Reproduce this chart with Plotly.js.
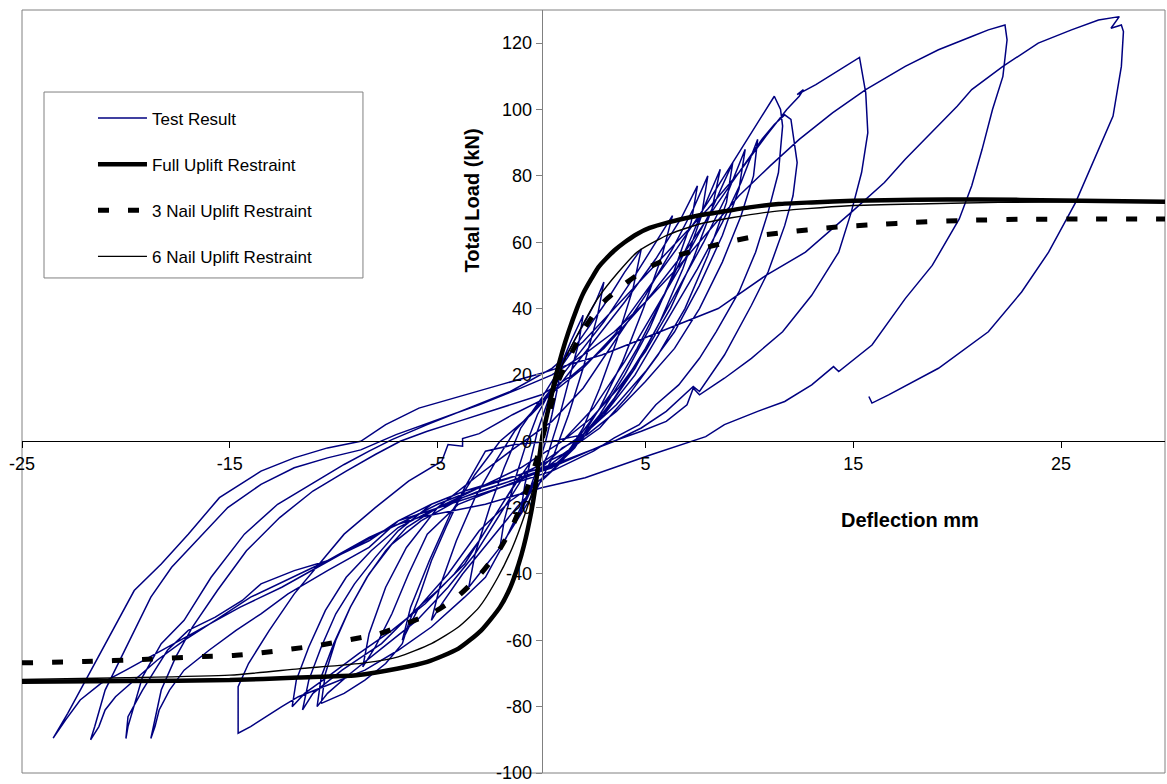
<!DOCTYPE html>
<html>
<head>
<meta charset="utf-8">
<script src="https://cdn.plot.ly/plotly-3.0.1.min.js"></script>
<style>
  html, body { margin: 0; padding: 0; background: #fff; }
  #chart { width: 1167px; height: 784px; }
</style>
</head>
<body>
<div id="chart"></div>
<script>
// ---------- Test record, cycle by cycle (deflection mm, load kN) ----------
const cyc1X = [0,0.3,0.6,1.0,0.8,0.5,0.2,-0.2,-0.6,-1.0,-0.8,-0.5,-0.2];
const cyc1Y = [0,8,16,25,17,8,0,-8,-15,-21,-13,-5,3];

const cyc2X = [0.3,0.8,1.4,2.0,1.8,1.3,0.8,0.3,-0.3,-0.9,-1.5,-2.0,-1.8,-1.3,-0.8,-0.2];
const cyc2Y = [12,21,30,38,30,18,6,-4,-12,-20,-27,-32,-24,-12,-2,8];

const cyc3X = [0.5,1.2,2.0,2.6,3.0,2.7,2.0,1.3,0.6,-0.2,-1.0,-2.0,-3.0,-3.5,-3.2,-2.5,-1.8,-1.0];
const cyc3Y = [16,26,35,42,48,38,22,8,-4,-14,-22,-32,-40,-44,-34,-20,-8,4];

const cyc4X = [0,1,2,3,4,4.8,4.4,3.6,2.8,2.0,1.0,0,-1.2,-2.5,-3.8,-4.8,-5.3,-4.9,-4.1,-3.2,-2.2,-1.3];
const cyc4Y = [13,23,32,41,51,58,46,30,16,4,-6,-12,-20,-30,-40,-49,-54,-44,-30,-17,-6,3];

const cyc5X = [0,1.5,3,4.5,5.5,6.3,5.8,4.9,3.9,2.8,1.6,0.3,-1.5,-3,-4.5,-5.9,-6.7,-6.3,-5.4,-4.4,-3.2,-2];
const cyc5Y = [12,24,36,50,60,68,56,40,24,10,-2,-10,-18,-27,-40,-50,-60,-50,-36,-22,-10,0];

const cyc6X = [-0.5,1,2.5,4,5.5,6.7,7.5,7.2,6.3,5.2,4,2.8,1.5,0,-2,-4,-5.5,-6.4,-7.2,-8,-8.6,-8.3,-7.5,-6.5,-5,-3.2,-1.5];
const cyc6Y = [8,18,30,42,55,67,77,66,50,34,20,8,-2,-9,-14,-19,-28,-40,-52,-62,-68,-58,-44,-32,-20,-11,-3];

const cyc7X = [0.5,2,3.5,5,6.3,7.3,8.0,7.7,6.8,5.7,4.5,3.2,2,0.5,-1.3,-2.7,-3.7,-4.6,-5.3,-5.9,-6.4,-6.7,-7.5,-8.5,-9.5,-10.6,-10.4,-9.9,-9.2,-8.4,-7.5,-6.5,-5,-3,-1];
const cyc7Y = [6,16,30,44,58,70,80,68,52,36,22,10,2,0,-1,-3,-14,-26,-36,-47,-55,-61,-67,-72,-76,-79,-70,-60,-50,-41,-33,-26,-20,-14,-8];

const cyc8X = [1,2.5,4,5.5,7,8.2,9.2,8.9,8,6.9,5.6,4.2,2.8,1,-1,-2.5,-3.7,-5,-6.1,-7.7,-9.6,-11,-11.5,-11.2,-10.6,-9.9,-9.0,-8.0,-6.9,-5.3,-3.7,-2.1,-0.5,0.8];
const cyc8Y = [0,10,24,40,56,70,84,72,56,40,26,14,4,-4,-10,-25,-37,-45,-51,-61,-69,-76,-81,-72,-62,-52,-43,-35,-27,-19,-15,-12,-9,-7];

const cyc8bX = [2,3.3,4.6,5.9,7.1,8.0,8.6,8.2,7.3,6.2,5.0,3.7,2.4,1,-0.5,-1.8,-3,-4.2,-5.6,-7.2,-8.8,-10.3,-11.4,-12.0,-11.8,-11.2,-10.4,-9.4,-8.2,-6.9,-5,-3,-1,0.5];
const cyc8bY = [3,14,28,44,60,73,82,70,55,40,27,16,7,0,-6,-18,-30,-40,-49,-57,-64,-71,-76,-80,-72,-62,-51,-41,-33,-26,-20,-15,-11,-8];

const cyc8cX = [2,3.5,5,6.5,7.8,8.9,9.8,9.5,8.7,7.6,6.4,5,3.6,2.2,0.8,-0.8,-2,-3.2,-4.5,-6,-7.6,-9.2,-10.3,-10.8,-10.6,-10,-9.2,-8.3,-7.2,-5.8,-3.8,-1.5,0.8];
const cyc8cY = [1,13,28,45,60,74,88,76,62,47,33,21,11,3,-3,-10,-22,-34,-44,-54,-62,-70,-76,-80,-71,-61,-50,-40,-31,-24,-17,-12,-7];

const cyc9X = [2,3,4.5,6,7.5,8.7,9.6,10.4,10.2,9.6,8.7,7.6,6.4,5,3.6,2.2,1,0,-1,-2,-2.7,-3.7,-5.3,-6.9,-8.5,-10.1,-11.7,-12.5,-13.5,-14.0,-14.6,-14.6,-14.6,-14.1,-13.1,-11.9,-10.7,-9.5,-8.0,-6.4,-4.8,-4.5,-3.8,-3.8];
const cyc9Y = [2,8,20,36,52,66,78,91,80,68,54,40,28,18,9,2,-2,-8,-20,-33,-41,-47,-56,-63,-69,-73,-77,-80,-84,-86,-88,-81,-74,-67,-57,-46,-37,-28,-20,-12,-6,-1,-1.5,0.8];

const cyc10X = [-3.0,-1.4,0.2,2,3.5,5,6.5,8,9.2,10.2,11.2,11.5,11.6,11.4,10.9,10.3,9.5,8.4,7.6,6.6,5.5,4.7,3.5,2.5,0.5,-2,-4.5,-6.9,-8.3,-10.3,-12.2,-13.5,-14.7,-16,-17.2,-17.9,-18.4,-18.6,-18.8,-18.6,-18.3,-17.6,-16.8,-15.6,-14.2,-12.6,-11,-9.4,-8,-6.8,-5.5];
const cyc10Y = [2.3,8,13,22,32,45,58,72,84,94,104,100,95,81,69,57,45,33,25,17,11,5,1,-3,-9,-14,-19,-24,-32,-39,-46,-52,-57,-63,-69,-75,-81,-86,-89.6,-84,-75,-65,-56,-45,-33,-23,-15,-9,-4,0,3];

const cyc11X = [-4,-2,0,1.5,3,5,7,8.5,9.7,10.6,11.2,11.7,12.0,12.3,12.1,11.7,10.9,10.1,8.8,7.6,7.3,6.0,4.8,3.5,1,-1,-3,-5,-6.9,-8.3,-10.3,-11.9,-13.5,-14.4,-15.7,-17,-18,-18.6,-19.2,-19.9,-20.0,-19.9,-19.2,-18.3,-17.2,-15.9,-14.3,-12.7,-11.1,-9.5,-8.3,-7.2];
const cyc11Y = [6,10,14,20,28,42,58,72,83,91,95.5,98.4,97,84,74,65,51,41,26,15,16.5,9,4,0,-6,-10,-14,-19,-25,-29,-36,-39,-43,-48,-53,-57,-63,-69,-75,-83,-89.6,-86,-71,-61,-54,-41,-28,-19,-13,-7,-3,0.5];

const cyc12X = [-5.5,-3.5,-1.5,0.5,2,3.5,5,6.5,8,9.5,10.8,11.8,12.4,12.6,12.3,13.2,14.2,15.3,15.6,15.7,15.4,14.9,14.3,13.0,11.6,10.1,8.8,7.6,7.3,7.0,6.0,4.8,3,0.8,-0.5,-2.1,-3.7,-5.3,-6.9,-8.3,-10,-12,-14,-15.7,-17.2,-18.5,-19.6,-20.5,-21,-21.3,-21.7,-21.5,-21.0,-19.9,-18.8,-17.8,-16.3,-15.1,-13.5,-11.9,-10.3,-8.7];
const cyc12Y = [5,10,15,22,30,40,50,60,70,81,92,100,104,106,104.5,107.5,111.5,115.7,105,93,81,69,57,44,33,25,19,14,16,11,6,3,-1,-7,-9,-12,-15,-19,-24,-30,-35,-41,-47,-54,-60,-66,-72,-77,-81,-86,-90,-86,-75,-61,-47,-38,-28,-20,-13,-8,-5,-2.6];

const cyc13X = [-7,-5,-3,-1,0.5,2,3.5,5,6.5,8,9.5,11,12.4,14,15.6,17.5,19.1,20.7,21.5,22.3,22.4,22.2,21.7,21.2,20.7,20.1,18.8,17.5,15.9,14.3,14.05,13.0,11.7,10.4,8.8,7.9,5.3,2.1,0,-2.7,-5.9,-6.9,-8.5,-10.5,-12.5,-14.5,-16.5,-18.5,-20,-21.2,-22.2,-22.9,-23.5,-22.8,-21.5,-20.5,-19.6,-18.3,-17.0,-15.5,-13.5,-11.9,-10.3,-8.7];
const cyc13Y = [2,6.5,11,16,20,26,33,42,52,63,74,83,91,99,106,113,118,122,124,125.5,121,110,100,88,77,67,53,43,29,21,22.5,17,12,9,5,1.4,-4,-11,-14,-19,-23,-25,-30,-37,-44,-50,-57,-64,-69,-73,-78,-84,-89.5,-82,-67,-55,-45,-37,-28,-17,-9,-5,-2,0];

const cyc14X = [-7.5,-5.9,-4,-2,0,1,2.9,5.3,8.5,10.8,12.7,14.9,16.5,17.5,18.6,20,20.7,22.2,23.9,25.5,26.8,27.8,27.4,27.9,28.0,27.9,27.5,26.8,25.7,24.4,23.1,21.5,19.1,16.7,15.9,15.75];
const cyc14Y = [5,10,13.5,17,20.5,22.5,26,32,40,50,57,69,78,85,92,101,106,113,120,124,127,128,124.5,125.5,123.5,113,98,88,72,57,45,33,22,14,11.5,13.5];

// ---------- Model curves ----------
const fullX = [-25,-20,-15,-11.7,-8.9,-6.9,-5.5,-4,-2.9,-2,-1.5,-1.1,-0.85,-0.5,-0.3,0,0.3,0.66,1.0,1.3,1.7,2.0,2.4,2.74,3.1,3.5,4.0,4.6,5.2,6.1,7.5,8.5,10,11.4,13,15,18,21,25,30];
const fullY = [-72.5,-72.3,-72,-71.2,-70.5,-68.5,-66.5,-62.5,-57,-50,-44,-37,-31.5,-21.5,-14,0,9,19,27,33,40,44.5,49,52.5,55,57.5,60,62.5,64.3,66,68,69,70.5,71.5,72,72.5,72.8,72.9,72.6,72.2];

const threeX = [-25,-22,-19.2,-16.3,-14.9,-13.5,-12.1,-10.7,-9.3,-7.84,-6.56,-5.2,-4.0,-2.95,-2.07,-1.4,-0.8,-0.3,0,0.3,0.8,1.4,2.1,2.9,4.0,5.15,6.5,7.9,9.2,10.7,12.05,13.5,14.9,16.4,17.7,20.5,23,26,30];
const threeY = [-66.8,-66.4,-65.8,-64.9,-64.6,-63.8,-62.7,-61.5,-59.9,-58.1,-55.1,-51.6,-46.6,-40.1,-33.1,-25.6,-16,-7,0,7,18,26,34.4,41.4,47.4,52.4,55.9,58.4,60.4,62.2,63.2,64.2,64.9,65.4,65.9,66.6,66.9,67,67];

const sixX = [-25,-20,-15,-11.7,-8.5,-6.9,-5.3,-4,-3,-2.1,-1.4,-0.8,-0.3,0,0.3,0.6,1.0,1.8,2.7,3.7,4.6,6.0,7.6,10.8,14.8,18.6,22,26,30];
const sixY = [-71.8,-71.3,-70.5,-68.6,-66.8,-65,-61,-56,-50,-41,-32,-22,-12,0,8,15,23,33,43,51,57,62,65.5,69,71,71.6,72,72.2,72.2];

// ---------- Labels ----------
const seriesNames = ['Test Result', 'Full Uplift Restraint', '3 Nail Uplift Restraint', '6 Nail Uplift Restraint'];
const xTitle = 'Deflection mm';
const yTitle = 'Total Load (kN)';
const xTickVals = [-25, -15, -5, 5, 15, 25];
const xTickText = ['-25', '-15', '-5', '5', '15', '25'];
const yTickVals = [-100, -80, -60, -40, -20, 0, 20, 40, 60, 80, 100, 120];
const yTickText = ['-100', '-80', '-60', '-40', '-20', '0', '20', '40', '60', '80', '100', '120'];

const testX = [].concat(cyc1X, cyc2X, cyc3X, cyc4X, cyc5X, cyc6X, cyc7X, cyc8X, cyc8bX, cyc8cX, cyc9X, cyc10X, cyc11X, cyc12X, cyc13X, cyc14X);
const testY = [].concat(cyc1Y, cyc2Y, cyc3Y, cyc4Y, cyc5Y, cyc6Y, cyc7Y, cyc8Y, cyc8bY, cyc8cY, cyc9Y, cyc10Y, cyc11Y, cyc12Y, cyc13Y, cyc14Y);

const FONT = 'Liberation Sans, Arial, sans-serif';

const traces = [
  { type: 'scatter', mode: 'lines', name: seriesNames[0], x: testX, y: testY,
    legendgroup: 'g1', line: { color: '#000080', width: 1.5 }, hoverinfo: 'skip' },
  { type: 'scatter', mode: 'lines', name: seriesNames[1], x: fullX, y: fullY,
    legendgroup: 'g2', line: { color: '#000000', width: 4.5, shape: 'spline', smoothing: 0.6 } },
  { type: 'scatter', mode: 'lines', name: seriesNames[2], x: threeX, y: threeY,
    legendgroup: 'g3', line: { color: '#000000', width: 5, dash: '11px,19px', shape: 'spline', smoothing: 0.6 } },
  { type: 'scatter', mode: 'lines', name: seriesNames[3], x: sixX, y: sixY,
    legendgroup: 'g4', line: { color: '#000000', width: 1.4, shape: 'spline', smoothing: 0.6 } }
];

const layout = {
  width: 1167, height: 784,
  margin: { l: 22, r: 2, t: 10, b: 11 },
  paper_bgcolor: '#ffffff', plot_bgcolor: '#ffffff',
  font: { family: FONT, color: '#000' },
  showlegend: true,
  legend: {
    x: 0.0621, y: 0.8814, xanchor: 'left', yanchor: 'top',
    bgcolor: 'rgba(0,0,0,0)', borderwidth: 0,
    font: { family: FONT, size: 17, color: '#000' },
    itemwidth: 49, traceorder: 'grouped', tracegroupgap: 21
  },
  xaxis: {
    range: [-25, 30], tickmode: 'array', tickvals: xTickVals, ticktext: xTickText,
    ticks: 'outside', ticklen: 6, tickcolor: '#000', tickwidth: 1,
    showline: true, linecolor: '#000', linewidth: 1,
    anchor: 'free', position: 100 / 230,
    showgrid: false, zeroline: false, ticklabeloverflow: 'allow',
    tickfont: { family: FONT, size: 18, color: '#000' }
  },
  yaxis: {
    range: [-100, 130], tickmode: 'array', tickvals: yTickVals, ticktext: yTickText,
    ticks: 'outside', ticklen: 6, tickcolor: '#808080', tickwidth: 1,
    showline: true, linecolor: '#808080', linewidth: 1,
    anchor: 'free', position: 25 / 55,
    showgrid: false, zeroline: false, ticklabeloverflow: 'allow',
    tickfont: { family: FONT, size: 18, color: '#000' }
  },
  shapes: [
    { type: 'rect', xref: 'paper', yref: 'paper', x0: 0, x1: 1, y0: 0, y1: 1,
      line: { color: '#808080', width: 1 }, fillcolor: 'rgba(0,0,0,0)', layer: 'below' },
    { type: 'rect', xref: 'paper', yref: 'paper', x0: 0.01925, x1: 0.2983, y0: 0.6488, y1: 0.8925,
      line: { color: '#808080', width: 1 }, fillcolor: '#ffffff', layer: 'below' }
  ],
  annotations: [
    { text: '<b>' + yTitle + '</b>', xref: 'paper', yref: 'paper', x: 0.3934, y: 0.7499,
      textangle: -90, showarrow: false, xanchor: 'center', yanchor: 'middle',
      font: { family: FONT, size: 20, color: '#000' } },
    { text: '<b>' + xTitle + '</b>', xref: 'paper', yref: 'paper', x: 0.7769, y: 0.3316,
      showarrow: false, xanchor: 'center', yanchor: 'middle',
      font: { family: FONT, size: 20, color: '#000' } }
  ]
};

Plotly.newPlot('chart', traces, layout, { displayModeBar: false, staticPlot: true });
</script>
</body>
</html>
